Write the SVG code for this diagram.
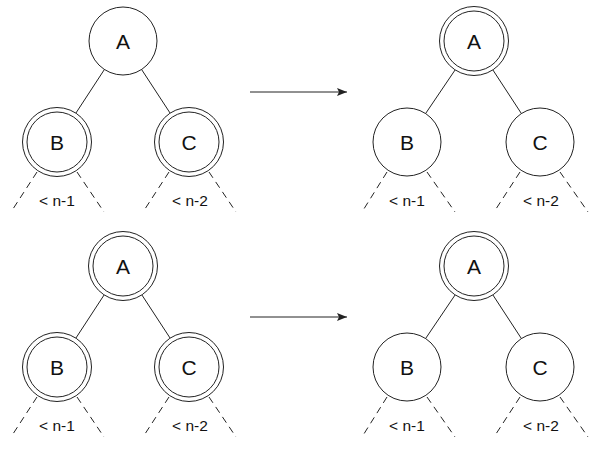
<svg xmlns="http://www.w3.org/2000/svg" width="597" height="454" viewBox="0 0 597 454">
<defs>
<style>
.node circle{fill:#fff;stroke:#222;stroke-width:1}
.lbl{font-family:"Liberation Sans",Arial,sans-serif;font-size:21px;fill:#111;text-anchor:middle}
.sub{font-family:"Liberation Sans",Arial,sans-serif;font-size:15.5px;fill:#111;text-anchor:middle}
.edge{stroke:#222;stroke-width:1;fill:none}
.dash{stroke:#222;stroke-width:1;fill:none;stroke-dasharray:7,5}
</style>
<marker id="ah" viewBox="0 0 10 8" refX="10" refY="4" markerWidth="10" markerHeight="8" markerUnits="userSpaceOnUse" orient="auto">
<path d="M0,0 L10,4 L0,8 L2,4 Z" fill="#222"/>
</marker>
</defs>
<rect width="597" height="454" fill="#fff"/>
<g id="connectors">
<!-- top left -->
<line class="edge" x1="104.4" y1="69.5" x2="75.9" y2="113.1"/>
<line class="edge" x1="141.6" y1="69.5" x2="170.1" y2="113.1"/>
<line class="dash" x1="37" y1="172" x2="11" y2="212"/>
<line class="dash" x1="77" y1="172" x2="104" y2="212"/>
<line class="dash" x1="169" y1="172" x2="143" y2="212"/>
<line class="dash" x1="209" y1="172" x2="236" y2="212"/>
<!-- top right -->
<line class="edge" x1="455.4" y1="69.5" x2="425.9" y2="113.1"/>
<line class="edge" x1="492.6" y1="69.5" x2="521.1" y2="113.1"/>
<line class="dash" x1="387" y1="172" x2="362" y2="212"/>
<line class="dash" x1="427" y1="172" x2="455" y2="212"/>
<line class="dash" x1="520" y1="172" x2="494" y2="212"/>
<line class="dash" x1="560" y1="172" x2="588" y2="212"/>
<!-- bottom left -->
<line class="edge" x1="104.4" y1="294.5" x2="75.9" y2="338.1"/>
<line class="edge" x1="141.6" y1="294.5" x2="170.1" y2="338.1"/>
<line class="dash" x1="37" y1="397" x2="11" y2="437"/>
<line class="dash" x1="77" y1="397" x2="104" y2="437"/>
<line class="dash" x1="169" y1="397" x2="143" y2="437"/>
<line class="dash" x1="209" y1="397" x2="236" y2="437"/>
<!-- bottom right -->
<line class="edge" x1="455.4" y1="294.5" x2="425.9" y2="338.1"/>
<line class="edge" x1="492.6" y1="294.5" x2="521.1" y2="338.1"/>
<line class="dash" x1="387" y1="397" x2="362" y2="437"/>
<line class="dash" x1="427" y1="397" x2="455" y2="437"/>
<line class="dash" x1="520" y1="397" x2="494" y2="437"/>
<line class="dash" x1="560" y1="397" x2="588" y2="437"/>
<!-- arrows -->
<line class="edge" x1="250" y1="92" x2="347" y2="92" marker-end="url(#ah)"/>
<line class="edge" x1="250" y1="317" x2="347" y2="317" marker-end="url(#ah)"/>
</g>
<!-- top left tree -->
<g id="tl-A" class="node"><circle cx="123" cy="41" r="34"/><text class="lbl" x="123" y="48.5">A</text></g>
<g id="tl-B" class="node"><circle cx="57" cy="142" r="34.5"/><circle cx="57" cy="142" r="30"/><text class="lbl" x="57" y="149.5">B</text></g>
<g id="tl-C" class="node"><circle cx="189" cy="142" r="34.5"/><circle cx="189" cy="142" r="30"/><text class="lbl" x="189" y="149.5">C</text></g>
<text class="sub" x="57" y="206">&lt; n-1</text>
<text class="sub" x="190" y="206">&lt; n-2</text>
<!-- top right tree -->
<g id="tr-A" class="node"><circle cx="474" cy="41" r="34.5"/><circle cx="474" cy="41" r="30"/><text class="lbl" x="474" y="48.5">A</text></g>
<g id="tr-B" class="node"><circle cx="407" cy="142" r="34"/><text class="lbl" x="407" y="149.5">B</text></g>
<g id="tr-C" class="node"><circle cx="540" cy="142" r="34"/><text class="lbl" x="540" y="149.5">C</text></g>
<text class="sub" x="407" y="206">&lt; n-1</text>
<text class="sub" x="541" y="206">&lt; n-2</text>
<!-- bottom left tree -->
<g id="bl-A" class="node"><circle cx="123" cy="266" r="34.5"/><circle cx="123" cy="266" r="30"/><text class="lbl" x="123" y="273.5">A</text></g>
<g id="bl-B" class="node"><circle cx="57" cy="367" r="34.5"/><circle cx="57" cy="367" r="30"/><text class="lbl" x="57" y="374.5">B</text></g>
<g id="bl-C" class="node"><circle cx="189" cy="367" r="34.5"/><circle cx="189" cy="367" r="30"/><text class="lbl" x="189" y="374.5">C</text></g>
<text class="sub" x="57" y="431">&lt; n-1</text>
<text class="sub" x="190" y="431">&lt; n-2</text>
<!-- bottom right tree -->
<g id="br-A" class="node"><circle cx="474" cy="266" r="34.5"/><circle cx="474" cy="266" r="30"/><text class="lbl" x="474" y="273.5">A</text></g>
<g id="br-B" class="node"><circle cx="407" cy="367" r="34"/><text class="lbl" x="407" y="374.5">B</text></g>
<g id="br-C" class="node"><circle cx="540" cy="367" r="34"/><text class="lbl" x="540" y="374.5">C</text></g>
<text class="sub" x="407" y="431">&lt; n-1</text>
<text class="sub" x="541" y="431">&lt; n-2</text>
</svg>
